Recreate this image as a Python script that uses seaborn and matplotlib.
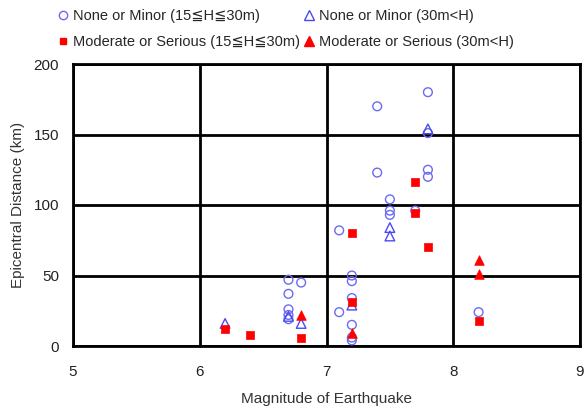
import matplotlib
matplotlib.use("Agg")
import matplotlib.pyplot as plt
from matplotlib.lines import Line2D
from matplotlib.ticker import MultipleLocator
import seaborn as sns
import pandas as pd

# None or Minor (15<=H<=30m): open circles
minor_low_mag = [6.7, 6.7, 6.7, 6.7, 6.7, 6.8, 7.1, 7.1, 7.2, 7.2, 7.2, 7.2, 7.2, 7.2,
                 7.4, 7.4, 7.5, 7.5, 7.5, 7.7, 7.8, 7.8, 7.8, 7.8, 8.2]
minor_low_dist = [47, 37, 26, 22, 19, 45, 82, 24, 50, 46, 34, 15, 6, 4,
                  170, 123, 104, 96, 93, 96, 180, 151, 125, 120, 24]
# None or Minor (30m<H): open triangles
minor_high_mag = [6.2, 6.7, 6.8, 7.2, 7.5, 7.5, 7.8]
minor_high_dist = [16, 21, 16, 29, 84, 78, 154]
# Moderate or Serious (15<=H<=30m): filled squares
serious_low_mag = [6.2, 6.4, 6.8, 7.2, 7.2, 7.7, 7.7, 7.8, 8.2]
serious_low_dist = [12, 8, 6, 80, 31, 116, 94, 70, 18]
# Moderate or Serious (30m<H): filled triangles
serious_high_mag = [6.8, 7.2, 8.2, 8.2]
serious_high_dist = [22, 9, 61, 51]

labels = ["None or Minor (15≦H≦30m)", "None or Minor (30m<H)",
          "Moderate or Serious (15≦H≦30m)", "Moderate or Serious (30m<H)"]

sns.set_style("white")
plt.rcParams['font.family'] = ['Liberation Sans', 'DejaVu Sans']

fig = plt.figure(figsize=(5.87, 4.12), dpi=100)
ax = fig.add_axes([73/587, 1-346/412, (580-73)/587, (346-64)/412])

c_circ = "#6b6bf2"
c_tri = "#4a4af5"
c_red = "#ff0000"

groups = [
    (minor_low_mag, minor_low_dist, "o", c_circ, False, 40),
    (minor_high_mag, minor_high_dist, "^", c_tri, False, 48),
    (serious_low_mag, serious_low_dist, "s", c_red, True, 26),
    (serious_high_mag, serious_high_dist, "^", c_red, True, 48),
]
for mags, dists, m, c, filled, s in groups:
    df = pd.DataFrame({"mag": mags, "dist": dists})
    if filled:
        sns.scatterplot(data=df, x="mag", y="dist", marker=m, color=c, s=s,
                        edgecolor=c, linewidth=0.5, ax=ax, zorder=3, legend=False)
    else:
        sns.scatterplot(data=df, x="mag", y="dist", marker=m, s=s,
                        facecolors="none", edgecolor=c, linewidth=1.0, ax=ax,
                        zorder=3, legend=False)

ax.set_xlim(5, 9)
ax.set_ylim(0, 200)
ax.xaxis.set_major_locator(MultipleLocator(1))
ax.yaxis.set_major_locator(MultipleLocator(50))
ax.xaxis.set_minor_locator(MultipleLocator(0.5))
ax.yaxis.set_minor_locator(MultipleLocator(25))
ax.grid(True, which="major", color="black", linewidth=2.0)
ax.set_axisbelow(True)
for sp in ax.spines.values():
    sp.set_color("black")
    sp.set_linewidth(2.0)
ax.tick_params(which="major", length=0, labelsize=11, colors="#222222")
ax.tick_params(axis="x", which="major", pad=14)
ax.tick_params(axis="y", which="major", pad=10)
ax.tick_params(which="minor", direction="in", length=3, width=0.8, color="#555555")
ax.set_xlabel("Magnitude of Earthquake", fontsize=11, color="#333333", labelpad=9)
ax.set_ylabel("Epicentral Distance (km)", fontsize=11, color="#333333", labelpad=6)

handles = [
    Line2D([], [], linestyle="none", marker="o", markerfacecolor="none",
           markeredgecolor=c_circ, markersize=6),
    Line2D([], [], linestyle="none", marker="^", markerfacecolor="none",
           markeredgecolor=c_tri, markersize=7),
    Line2D([], [], linestyle="none", marker="s", markerfacecolor=c_red,
           markeredgecolor=c_red, markersize=5),
    Line2D([], [], linestyle="none", marker="^", markerfacecolor=c_red,
           markeredgecolor=c_red, markersize=7),
]
order = [0, 2, 1, 3]
fig.legend([handles[i] for i in order], [labels[i] for i in order], ncol=2,
           loc="upper left", bbox_to_anchor=(48/587, 1.0), frameon=False,
           fontsize=10.5, handlelength=0.8, handletextpad=0.3, columnspacing=0.2,
           labelspacing=0.85, borderaxespad=0.2)

fig.savefig("out.png", dpi=100)
